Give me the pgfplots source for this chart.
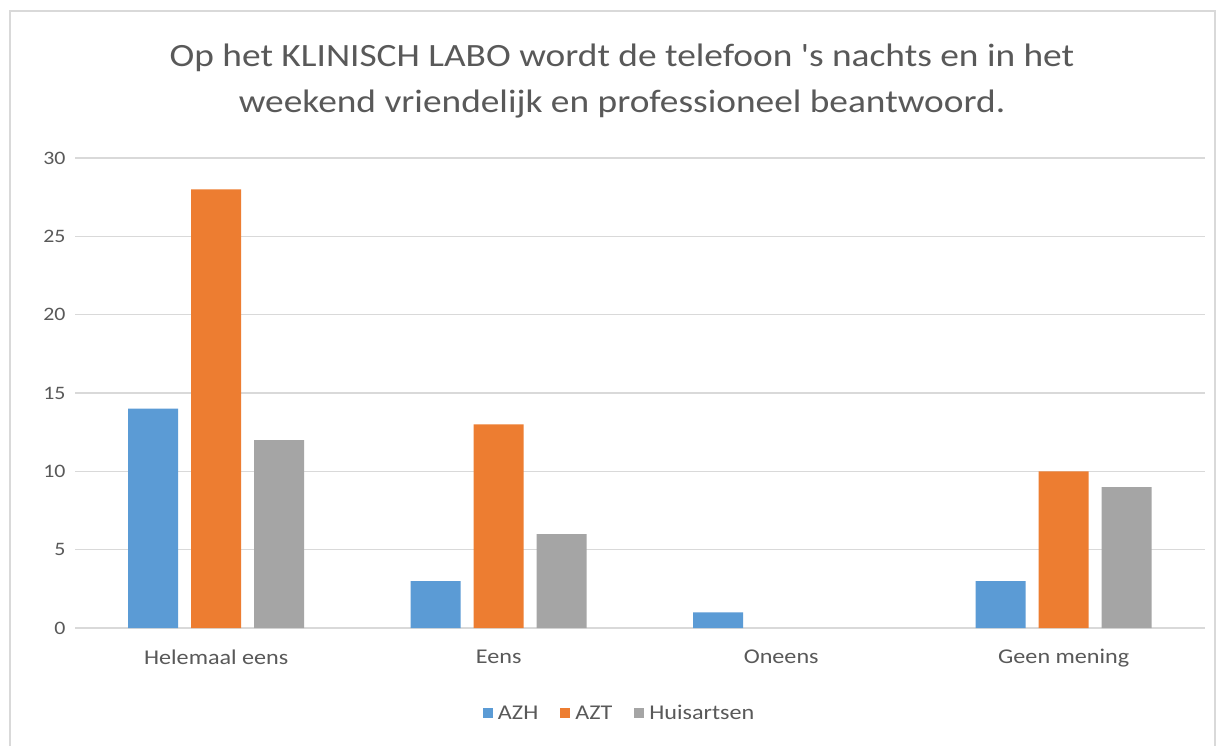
\documentclass[border=0pt]{standalone}
\usepackage{pgfplots}
\pgfplotsset{compat=1.18}
\usepackage{fontspec}
\setmainfont[FakeStretch=1.15]{Carlito}
\newfontfamily\plainfont[FakeStretch=1.15]{Carlito}
\definecolor{cblue}{RGB}{91,155,213}
\definecolor{corange}{RGB}{237,125,49}
\definecolor{cgray}{RGB}{165,165,165}
\definecolor{ctext}{RGB}{89,89,89}
\definecolor{cgrid}{RGB}{217,217,217}
\begin{document}
\begin{tikzpicture}[x=1pt,y=1pt]
\useasboundingbox (0,0) rectangle (1217,745);
\fill[white] (0,0) rectangle (1217,745);
\draw[cgrid,line width=1.5pt] (10,-5) rectangle (1215,734);
\node[text=ctext,font=\fontsize{32.5}{46}\selectfont,align=center] at (622,664) {Op het KLINISCH LABO wordt de telefoon {\plainfont '}s nachts en in het\\weekend vriendelijk en professioneel beantwoord.};
\begin{axis}[
  at={(75pt,117pt)}, anchor=south west,
  scale only axis, width=1130pt, height=470pt,
  ymin=0, ymax=30, ytick={0,5,...,30},
  xmin=-0.5, xmax=3.5, xtick={0,1,2,3},
  xticklabels={Helemaal eens,Eens,Oneens,Geen mening},
  axis line style={draw=none},
  axis x line*=bottom,
  x axis line style={draw=cgrid,line width=1.5pt},
  ymajorgrids, grid style={cgrid,line width=1.2pt},
  major tick length=0pt,
  tick label style={text=ctext,font=\fontsize{19}{22}\selectfont},
  xticklabel style={font=\fontsize{21}{24}\selectfont,yshift=-18pt},
  /pgf/number format/assume math mode=true,
  yticklabel style={xshift=-6pt},
  ybar, bar width=50pt,
  legend style={at={(axis description cs:0.482,-0.181)},anchor=center,
    draw=none,legend columns=-1,font=\fontsize{21}{24}\selectfont,text=ctext,
    /tikz/every odd column/.append style={column sep=3pt},
    /tikz/every even column/.append style={column sep=20pt}},
  legend image code/.code={\fill[#1] (0pt,-5pt) rectangle (10pt,5pt);},
]
\addplot[fill=cblue,draw=none,bar shift=-63pt] coordinates {(0,14) (1,3) (2,1) (3,3)};
\addplot[fill=corange,draw=none,bar shift=0pt] coordinates {(0,28) (1,13) (3,10)};
\addplot[fill=cgray,draw=none,bar shift=63pt] coordinates {(0,12) (1,6) (3,9)};
\legend{AZH,AZT,Huisartsen}
\end{axis}
\end{tikzpicture}
\end{document}
